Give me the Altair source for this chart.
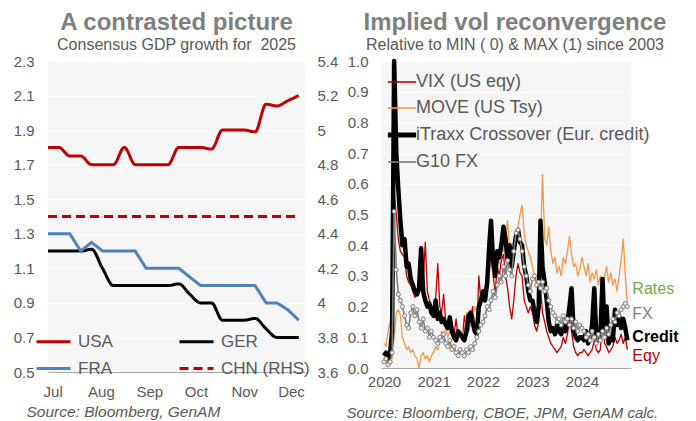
import altair as alt
import pandas as pd

FONT = "Liberation Sans"
GREY = "#595959"

# ---------------- Left panel: consensus GDP growth for 2025 ----------------
gdp_dates = pd.date_range("2024-06-28", periods=24, freq="7D")
usa = [1.8, 1.8, 1.75, 1.75, 1.7, 1.7, 1.7, 1.8, 1.7, 1.7, 1.7, 1.7,
       1.8, 1.8, 1.8, 1.79, 1.9, 1.9, 1.9, 1.89, 2.05, 2.04, 2.07, 2.1]
ger = [1.2, 1.2, 1.2, 1.2, 1.21, 1.1, 1.0, 1.0, 1.0, 1.0, 1.0, 1.0,
       1.01, 0.95, 0.9, 0.9, 0.8, 0.8, 0.8, 0.81, 0.75, 0.7, 0.7, 0.7]
fra = [1.3, 1.3, 1.3, 1.2, 1.25, 1.2, 1.2, 1.2, 1.2, 1.1, 1.1, 1.1,
       1.1, 1.05, 1.0, 1.0, 1.0, 1.0, 1.0, 1.0, 0.9, 0.9, 0.86, 0.8]
chn = [4.5, 4.5, 4.5, 4.5, 4.5, 4.5, 4.5, 4.5, 4.5, 4.5, 4.5, 4.5,
       4.5, 4.5, 4.5, 4.5, 4.5, 4.5, 4.5, 4.5, 4.5, 4.5, 4.5, 4.5]

# legend fills column by column: USA/FRA in the first column, GER/CHN in the second
gdp_series = ["USA", "FRA", "GER", "CHN (RHS)"]
gdp_colors = ["#c00000", "#4f81bd", "#000000", "#c00000"]
gdp_dashes = [[1, 0], [1, 0], [1, 0], [9, 5]]
left_ticks = [0.5, 0.7, 0.9, 1.1, 1.3, 1.5, 1.7, 1.9, 2.1, 2.3]
right_ticks = [3.6, 3.8, 4.0, 4.2, 4.4, 4.6, 4.8, 5.0, 5.2, 5.4]
month_ticks = [alt.DateTime(year=2024, month=m, date=1) for m in [7, 8, 9, 10, 11, 12]]

rows = []
for name, vals in [("USA", usa), ("GER", ger), ("FRA", fra)]:
    for d, v in zip(gdp_dates, vals):
        rows.append({"date": d, "country": name, "value": v})
gdp_df = pd.DataFrame(rows)
chn_df = pd.DataFrame({"date": gdp_dates, "country": "CHN (RHS)", "rhs": chn})

gdp_legend = alt.Legend(title=None, orient="none", legendX=-13, legendY=262, columns=2,
                        columnPadding=60, rowPadding=-8, symbolType="stroke", symbolSize=1156,
                        symbolStrokeWidth=3, labelFontSize=17, labelColor=GREY, labelFont=FONT,
                        labelOffset=6, labelBaseline="middle")
gdp_color = alt.Color("country:N", scale=alt.Scale(domain=gdp_series, range=gdp_colors), legend=gdp_legend)
gdp_dash = alt.StrokeDash("country:N", scale=alt.Scale(domain=gdp_series, range=gdp_dashes), legend=gdp_legend)

left_x = alt.X("date:T",
               scale=alt.Scale(domain=[alt.DateTime(year=2024, month=6, date=28),
                                       alt.DateTime(year=2024, month=12, date=10)]),
               axis=alt.Axis(values=month_ticks, format="%b", labelPadding=12, ticks=False,
                             domainColor="#a6a6a6", grid=False,
                             title="Source: Bloomberg, GenAM", titleX=-22, titleY=39,
                             titleAlign="left", titleBaseline="middle", titleFontStyle="italic",
                             titleFontWeight="normal", titleFontSize=15.5, titleColor=GREY))
left_scale = alt.Scale(domain=[0.5, 2.3], nice=False)

smooth = alt.Chart(gdp_df).transform_filter(
    alt.FieldOneOfPredicate(field="country", oneOf=["USA", "GER"])
).mark_line(interpolate="monotone", strokeWidth=3).encode(
    x=left_x,
    y=alt.Y("value:Q", scale=left_scale,
            axis=alt.Axis(values=left_ticks, format=".1f", grid=True, gridColor="white",
                          gridWidth=1.2, domain=False, ticks=False, labelPadding=14, title=None)),
    color=gdp_color, strokeDash=gdp_dash,
)
straight = alt.Chart(gdp_df).transform_filter(
    alt.FieldEqualPredicate(field="country", equal="FRA")
).mark_line(strokeWidth=3).encode(
    x=left_x,
    y=alt.Y("value:Q", scale=left_scale, axis=None),
    color=gdp_color, strokeDash=gdp_dash,
)
china = alt.Chart(chn_df).mark_line(strokeWidth=3).encode(
    x=left_x,
    y=alt.Y("rhs:Q", scale=alt.Scale(domain=[3.6, 5.4], nice=False),
            axis=alt.Axis(orient="right", values=right_ticks, format="~g", grid=False,
                          domain=False, ticks=False, labelPadding=12, title=None)),
    color=gdp_color, strokeDash=gdp_dash,
)

left = alt.layer(smooth, straight, china).resolve_scale(y="independent").properties(
    width=257, height=311,
    title=alt.TitleParams(text="A contrasted picture",
                          subtitle="Consensus GDP growth for\u00a0 2025",
                          fontSize=24, fontWeight="bold", color="#7f7f7f", font=FONT,
                          subtitleFont=FONT, subtitleFontSize=16, subtitleColor=GREY,
                          subtitlePadding=2, anchor="middle", offset=1),
)

# ---------------- Right panel: implied vol (0 = min, 1 = max since 2003) ----------------
vol_dates = [pd.Timestamp(2020 + i // 24, (i % 24) // 2 + 1, 1 if i % 2 == 0 else 16)
             for i in range(119)]
vix = [0.03, 0.04, 0.03, 0.06, 0.20, 0.57, 0.50, 0.42, 0.38, 0.37, 0.36, 0.30,
       0.28, 0.27, 0.25, 0.23, 0.24, 0.30, 0.33, 0.28, 0.41, 0.25, 0.22, 0.20,
       0.20, 0.22, 0.34, 0.20, 0.18, 0.24, 0.15, 0.13, 0.16, 0.12, 0.11, 0.16,
       0.10, 0.11, 0.09, 0.17, 0.13, 0.12, 0.15, 0.20, 0.13, 0.12, 0.30, 0.22,
       0.22, 0.26, 0.30, 0.34, 0.40, 0.30, 0.25, 0.33, 0.30, 0.35, 0.37, 0.30,
       0.26, 0.20, 0.16, 0.22, 0.30, 0.34, 0.31, 0.30, 0.22, 0.20, 0.18, 0.20,
       0.18, 0.14, 0.12, 0.15, 0.26, 0.18, 0.15, 0.12, 0.10, 0.08, 0.07, 0.06,
       0.05, 0.06, 0.07, 0.10, 0.08, 0.11, 0.16, 0.12, 0.07, 0.05, 0.04, 0.05,
       0.05, 0.06, 0.05, 0.04, 0.05, 0.06, 0.09, 0.06, 0.05, 0.06, 0.18, 0.08,
       0.07, 0.05, 0.06, 0.07, 0.10, 0.08, 0.09, 0.11, 0.08, 0.10, 0.06]
move = [0.08, 0.07, 0.12, 0.15, 0.03, 0.10, 0.18, 0.19, 0.17, 0.10, 0.08, 0.06,
        0.07, 0.05, 0.06, 0.04, 0.03, 0.00, 0.04, 0.05, 0.03, 0.04, 0.02, 0.04,
        0.05, 0.07, 0.06, 0.09, 0.12, 0.11, 0.13, 0.10, 0.12, 0.11, 0.10, 0.12,
        0.11, 0.10, 0.12, 0.11, 0.18, 0.13, 0.14, 0.17, 0.20, 0.18, 0.22, 0.20,
        0.22, 0.25, 0.28, 0.32, 0.35, 0.30, 0.33, 0.36, 0.34, 0.40, 0.38, 0.42,
        0.48, 0.38, 0.35, 0.40, 0.44, 0.46, 0.50, 0.53, 0.44, 0.40, 0.38, 0.36,
        0.33, 0.30, 0.28, 0.34, 0.40, 0.63, 0.42, 0.40, 0.46, 0.38, 0.34, 0.36,
        0.31, 0.33, 0.30, 0.36, 0.34, 0.38, 0.43, 0.37, 0.33, 0.34, 0.30, 0.32,
        0.36, 0.33, 0.30, 0.34, 0.28, 0.31, 0.29, 0.32, 0.27, 0.30, 0.24, 0.30,
        0.33, 0.28, 0.31, 0.27, 0.29, 0.25, 0.30, 0.35, 0.42, 0.30, 0.21]
credit = [0.04, 0.05, 0.03, 0.05, 0.12, 1.00, 0.70, 0.58, 0.48, 0.40, 0.42, 0.33,
          0.34, 0.29, 0.27, 0.25, 0.24, 0.26, 0.39, 0.25, 0.22, 0.20, 0.21, 0.18,
          0.17, 0.22, 0.16, 0.18, 0.15, 0.16, 0.14, 0.13, 0.165, 0.12, 0.10, 0.09,
          0.12, 0.11, 0.10, 0.09, 0.12, 0.17, 0.18, 0.15, 0.12, 0.11, 0.20, 0.22,
          0.25, 0.22, 0.28, 0.40, 0.48, 0.35, 0.30, 0.38, 0.36, 0.40, 0.46, 0.42,
          0.35, 0.40, 0.33, 0.38, 0.43, 0.45, 0.41, 0.40, 0.33, 0.30, 0.25, 0.22,
          0.22, 0.18, 0.15, 0.20, 0.48, 0.33, 0.28, 0.22, 0.15, 0.12, 0.13, 0.11,
          0.14, 0.12, 0.11, 0.14, 0.12, 0.15, 0.20, 0.26, 0.12, 0.10, 0.09, 0.10,
          0.10, 0.09, 0.12, 0.08, 0.10, 0.14, 0.26, 0.10, 0.09, 0.11, 0.29, 0.12,
          0.20, 0.08, 0.10, 0.09, 0.19, 0.14, 0.17, 0.13, 0.16, 0.13, 0.09]
fx = [0.02, 0.03, 0.01, 0.02, 0.05, 0.51, 0.32, 0.24, 0.22, 0.20, 0.17, 0.14,
      0.13, 0.18, 0.20, 0.17, 0.19, 0.15, 0.13, 0.16, 0.12, 0.13, 0.10, 0.12,
      0.10, 0.09, 0.08, 0.10, 0.09, 0.11, 0.08, 0.07, 0.09, 0.06, 0.07, 0.05,
      0.04, 0.06, 0.05, 0.04, 0.06, 0.05, 0.07, 0.06, 0.08, 0.10, 0.12, 0.14,
      0.15, 0.17, 0.20, 0.19, 0.22, 0.25, 0.23, 0.27, 0.30, 0.28, 0.33, 0.30,
      0.35, 0.32, 0.30, 0.38, 0.44, 0.45, 0.42, 0.38, 0.33, 0.30, 0.27, 0.25,
      0.29, 0.30, 0.27, 0.28, 0.26, 0.28, 0.25, 0.26, 0.22, 0.20, 0.18, 0.17,
      0.15, 0.16, 0.14, 0.17, 0.15, 0.16, 0.14, 0.16, 0.13, 0.15, 0.12, 0.14,
      0.13, 0.12, 0.10, 0.11, 0.09, 0.12, 0.10, 0.08, 0.11, 0.09, 0.12, 0.10,
      0.13, 0.11, 0.14, 0.16, 0.15, 0.18, 0.17, 0.19, 0.20, 0.21, 0.20]

vol_series = ["VIX (US eqy)", "MOVE (US Tsy)", "iTraxx Crossover (Eur. credit)", "G10 FX"]
vol_colors = ["#c00000", "#f79646", "#000000", "#7f7f7f"]
vol_widths = [1.3, 1.3, 4.5, 1.6]
vol_ticks = [0.0, 0.1, 0.2, 0.3, 0.4, 0.5, 0.6, 0.7, 0.8, 0.9, 1.0]
year_ticks = [alt.DateTime(year=y, month=1, date=1) for y in [2020, 2021, 2022, 2023, 2024]]
end_labels = ["Rates", "FX", "Credit", "Eqy"]
end_label_values = [0.257, 0.176, 0.100, 0.040]
end_label_colors = ["#70ad47", "#7f7f7f", "#000000", "#c00000"]
end_label_weights = ["normal", "normal", "bold", "normal"]

vol_legend = alt.Legend(
    title=None, orient="none", legendX=12, legendY=12, symbolType="stroke",
    symbolSize=800, labelFontSize=18, labelColor=GREY, labelFont=FONT,
    labelOffset=5, rowPadding=8, labelLimit=400,
    symbolStrokeWidth=alt.ExprRef(expr="datum.value === 'iTraxx Crossover (Eur. credit)' ? 5 : 1.6"),
)
vol_color = alt.Color("gauge:N", scale=alt.Scale(domain=vol_series, range=vol_colors), legend=vol_legend)

right_x = alt.X("date:T",
                scale=alt.Scale(domain=[alt.DateTime(year=2019, month=12, date=10),
                                        alt.DateTime(year=2024, month=12, date=28)]),
                axis=alt.Axis(values=year_ticks, format="%Y", labelPadding=6, ticks=False,
                              domainColor="#a6a6a6", grid=False,
                              title="Source: Bloomberg, CBOE, JPM, GenAM calc.", titleX=-35,
                              titleY=44, titleAlign="left", titleBaseline="middle",
                              titleFontStyle="italic", titleFontWeight="normal", titleFontSize=15,
                              titleColor=GREY))
right_y = alt.Y("value:Q", scale=alt.Scale(domain=[0, 1], nice=False),
                axis=alt.Axis(values=vol_ticks, format=".1f", grid=True, gridColor="white",
                              gridWidth=1.2, domain=False, ticks=False, labelPadding=13, title=None))

vol_layers = []
for name, vals, w in zip(vol_series, [vix, move, credit, fx], vol_widths):
    df = pd.DataFrame({"date": vol_dates, "gauge": name, "value": vals})
    vol_layers.append(
        alt.Chart(df).mark_line(strokeJoin="round", strokeWidth=w).encode(
            x=right_x, y=right_y, color=vol_color)
    )
fx_df = pd.DataFrame({"date": vol_dates, "value": fx})
fx_points = alt.Chart(fx_df).mark_point(shape="circle", filled=True, fill="#eeeeee",
                                        stroke="#808080", strokeWidth=1, size=16, opacity=1).encode(
    x=right_x, y=right_y)

label_layers = []
for txt, val, col, wt in zip(end_labels, end_label_values, end_label_colors, end_label_weights):
    ldf = pd.DataFrame({"date": [vol_dates[-1]], "value": [val], "label": [txt]})
    label_layers.append(
        alt.Chart(ldf).mark_text(align="left", baseline="middle", dx=5, fontSize=16, font=FONT,
                                 color=col, fontWeight=wt).encode(
            x=right_x, y=right_y, text="label:N")
    )

right = alt.layer(*vol_layers, fx_points, *label_layers).properties(
    width=250, height=307,
    title=alt.TitleParams(text="Implied vol reconvergence",
                          subtitle="Relative to MIN ( 0) & MAX (1) since 2003",
                          fontSize=24, fontWeight="bold", color="#7f7f7f", font=FONT,
                          subtitleFont=FONT, subtitleFontSize=16, subtitleColor=GREY,
                          subtitlePadding=2, anchor="middle", offset=1, dx=9),
)

chart = alt.hconcat(left, right, spacing=8).resolve_scale(
    color="independent", strokeDash="independent"
).resolve_legend(
    color="independent", strokeDash="independent"
).properties(
    padding={"left": 5, "top": 3, "right": 5, "bottom": 0},
    background="white",
).configure_view(
    fill="#f6f6f6", stroke=None
).configure_axis(
    labelFont=FONT, labelFontSize=15, labelColor=GREY, titleFont=FONT
)

chart.save("out.html", embed_options={"renderer": "svg", "actions": False})
